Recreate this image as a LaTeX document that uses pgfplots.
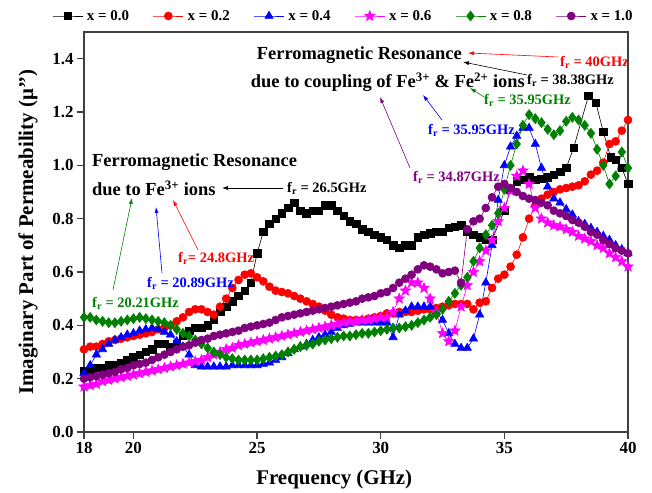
\documentclass[border=0pt]{standalone}
\usepackage{fontspec}
\setmainfont{Liberation Serif}
\usepackage{pgfplots}
\pgfplotsset{compat=1.18}
\usepackage{pgfplotstable}
\usetikzlibrary{arrows.meta}
\definecolor{cRed}{RGB}{255,0,0}
\definecolor{cBlue}{RGB}{0,0,255}
\definecolor{cMag}{RGB}{255,0,255}
\definecolor{cGreen}{RGB}{0,128,0}
\definecolor{cPurple}{RGB}{128,0,128}
\pgfdeclareplotmark{fstar}{%
\pgfpathmoveto{\pgfpointpolar{90}{\pgfplotmarksize}}%
\pgfpathlineto{\pgfpointpolar{126}{0.45\pgfplotmarksize}}%
\pgfpathlineto{\pgfpointpolar{162}{\pgfplotmarksize}}%
\pgfpathlineto{\pgfpointpolar{198}{0.45\pgfplotmarksize}}%
\pgfpathlineto{\pgfpointpolar{234}{\pgfplotmarksize}}%
\pgfpathlineto{\pgfpointpolar{270}{0.45\pgfplotmarksize}}%
\pgfpathlineto{\pgfpointpolar{306}{\pgfplotmarksize}}%
\pgfpathlineto{\pgfpointpolar{342}{0.45\pgfplotmarksize}}%
\pgfpathlineto{\pgfpointpolar{18}{\pgfplotmarksize}}%
\pgfpathlineto{\pgfpointpolar{54}{0.45\pgfplotmarksize}}%
\pgfpathclose\pgfusepathqfillstroke}

\pgfplotstableread[row sep=\\]{f v\\
18 .23\\ 18.25 .23\\ 18.5 .24\\ 18.75 .24\\ 19 .25\\ 19.25 .25\\ 19.5 .26\\ 19.75 .27\\ 20 .28\\ 20.25 .29\\ 20.5 .30\\ 20.75 .31\\ 21 .33\\ 21.25 .33\\ 21.5 .32\\ 21.75 .33\\ 22 .36\\ 22.25 .38\\ 22.5 .39\\ 22.75 .39\\ 23 .40\\ 23.25 .42\\ 23.5 .45\\ 23.75 .47\\ 24 .49\\ 24.25 .51\\ 24.5 .53\\ 24.75 .56\\ 25 .67\\ 25.25 .75\\ 25.5 .78\\ 25.75 .80\\ 26 .82\\ 26.25 .84\\ 26.5 .86\\ 26.75 .83\\ 27 .82\\ 27.25 .83\\ 27.5 .83\\ 27.75 .85\\ 28 .85\\ 28.25 .83\\ 28.5 .81\\ 28.75 .79\\ 29 .78\\ 29.25 .76\\ 29.5 .75\\ 29.75 .74\\ 30 .73\\ 30.25 .72\\ 30.5 .70\\ 30.75 .69\\ 31 .70\\ 31.25 .70\\ 31.5 .73\\ 31.75 .74\\ 32 .745\\ 32.25 .75\\ 32.5 .75\\ 32.75 .765\\ 33 .77\\ 33.25 .775\\ 33.5 .75\\ 33.75 .74\\ 34 .73\\ 34.25 .72\\ 34.5 .72\\ 35 .83\\ 35.25 .91\\ 35.5 .94\\ 35.75 .945\\ 36 .955\\ 36.25 .945\\ 36.5 .95\\ 36.75 .955\\ 37 .965\\ 37.25 .975\\ 37.5 .99\\ 37.8 1.065\\ 38.4 1.26\\ 38.7 1.235\\ 39 1.125\\ 39.3 1.03\\ 39.5 1.02\\ 39.75 .99\\ 40 .93\\
}\tblA

\pgfplotstableread[row sep=\\]{f v\\
18 .31\\ 18.25 .32\\ 18.5 .32\\ 18.75 .33\\ 19 .34\\ 19.25 .345\\ 19.5 .35\\ 19.75 .355\\ 20 .36\\ 20.25 .365\\ 20.5 .37\\ 20.75 .375\\ 21 .385\\ 21.25 .39\\ 21.5 .40\\ 21.75 .415\\ 22 .43\\ 22.25 .45\\ 22.5 .46\\ 22.75 .46\\ 23 .45\\ 23.25 .44\\ 23.5 .47\\ 23.75 .50\\ 24 .54\\ 24.25 .57\\ 24.5 .59\\ 24.75 .595\\ 25 .58\\ 25.25 .565\\ 25.5 .545\\ 25.75 .53\\ 26 .525\\ 26.25 .52\\ 26.5 .51\\ 26.75 .50\\ 27 .49\\ 27.25 .48\\ 27.5 .47\\ 27.75 .455\\ 28 .44\\ 28.25 .43\\ 28.5 .425\\ 28.75 .42\\ 29 .42\\ 29.25 .42\\ 29.5 .425\\ 29.75 .43\\ 30 .435\\ 30.25 .445\\ 30.5 .445\\ 30.75 .45\\ 31 .45\\ 31.25 .45\\ 31.5 .455\\ 31.75 .46\\ 32 .46\\ 32.25 .465\\ 32.5 .47\\ 32.75 .475\\ 33 .48\\ 33.25 .48\\ 33.5 .48\\ 33.75 .46\\ 34 .485\\ 34.25 .49\\ 34.5 .54\\ 34.75 .575\\ 35 .59\\ 35.25 .62\\ 35.5 .665\\ 35.75 .73\\ 36 .80\\ 36.25 .85\\ 36.5 .875\\ 36.75 .89\\ 37 .90\\ 37.25 .91\\ 37.5 .915\\ 37.75 .92\\ 38 .925\\ 38.25 .94\\ 38.5 .965\\ 38.75 .98\\ 39 1.01\\ 39.25 1.08\\ 39.5 1.09\\ 39.75 1.13\\ 40 1.17\\
}\tblB

\pgfplotstableread[row sep=\\]{f v\\
18 .22\\ 18.25 .25\\ 18.5 .29\\ 18.75 .31\\ 19 .33\\ 19.25 .345\\ 19.5 .355\\ 19.75 .365\\ 20 .37\\ 20.25 .38\\ 20.5 .385\\ 20.75 .39\\ 21 .385\\ 21.25 .375\\ 21.5 .365\\ 21.75 .34\\ 22 .32\\ 22.25 .29\\ 22.5 .25\\ 22.75 .245\\ 23 .245\\ 23.25 .245\\ 23.5 .245\\ 23.75 .245\\ 24 .25\\ 24.25 .25\\ 24.5 .25\\ 24.75 .25\\ 25 .25\\ 25.25 .255\\ 25.5 .26\\ 25.75 .27\\ 26 .28\\ 26.25 .295\\ 26.5 .31\\ 26.75 .32\\ 27 .33\\ 27.25 .345\\ 27.5 .355\\ 27.75 .365\\ 28 .375\\ 28.25 .39\\ 28.5 .40\\ 28.75 .405\\ 29 .41\\ 29.25 .41\\ 29.5 .41\\ 29.75 .41\\ 30 .41\\ 30.25 .41\\ 30.5 .355\\ 30.75 .44\\ 31 .455\\ 31.25 .47\\ 31.5 .47\\ 31.75 .47\\ 32 .47\\ 32.25 .45\\ 32.5 .42\\ 32.75 .37\\ 33 .33\\ 33.25 .315\\ 33.5 .315\\ 33.75 .35\\ 34 .44\\ 34.25 .56\\ 34.5 .70\\ 34.75 .87\\ 35 1.00\\ 35.25 1.07\\ 35.5 1.11\\ 35.75 1.14\\ 36 1.14\\ 36.25 1.08\\ 36.5 .99\\ 36.75 .92\\ 37 .875\\ 37.25 .86\\ 37.5 .835\\ 37.75 .815\\ 38 .79\\ 38.25 .78\\ 38.5 .765\\ 38.75 .75\\ 39 .735\\ 39.25 .72\\ 39.5 .70\\ 39.75 .685\\ 40 .67\\
}\tblC

\pgfplotstableread[row sep=\\]{f v\\
18 .17\\ 18.25 .175\\ 18.5 .18\\ 18.75 .19\\ 19 .195\\ 19.25 .20\\ 19.5 .205\\ 19.75 .21\\ 20 .215\\ 20.25 .22\\ 20.5 .225\\ 20.75 .23\\ 21 .235\\ 21.25 .24\\ 21.5 .245\\ 21.75 .25\\ 22 .255\\ 22.25 .26\\ 22.5 .265\\ 22.75 .27\\ 23 .28\\ 23.25 .29\\ 23.5 .30\\ 23.75 .31\\ 24 .315\\ 24.25 .325\\ 24.5 .33\\ 24.75 .335\\ 25 .34\\ 25.25 .345\\ 25.5 .35\\ 25.75 .355\\ 26 .36\\ 26.25 .365\\ 26.5 .37\\ 26.75 .375\\ 27 .38\\ 27.25 .385\\ 27.5 .39\\ 27.75 .395\\ 28 .40\\ 28.25 .405\\ 28.5 .41\\ 28.75 .415\\ 29 .415\\ 29.25 .42\\ 29.5 .42\\ 29.75 .425\\ 30 .43\\ 30.25 .43\\ 30.5 .45\\ 30.75 .50\\ 31 .53\\ 31.25 .56\\ 31.5 .56\\ 31.75 .54\\ 32 .50\\ 32.25 .45\\ 32.5 .37\\ 32.75 .34\\ 33 .38\\ 33.25 .47\\ 33.5 .55\\ 33.75 .60\\ 34 .64\\ 34.25 .68\\ 34.5 .72\\ 34.75 .79\\ 35 .84\\ 35.25 .905\\ 35.5 .96\\ 35.75 .98\\ 36 .93\\ 36.25 .84\\ 36.5 .80\\ 36.75 .785\\ 37 .775\\ 37.25 .77\\ 37.5 .76\\ 37.75 .75\\ 38 .735\\ 38.25 .725\\ 38.5 .715\\ 38.75 .70\\ 39 .69\\ 39.25 .67\\ 39.5 .655\\ 39.75 .64\\ 40 .62\\
}\tblD

\pgfplotstableread[row sep=\\]{f v\\
18 .43\\ 18.25 .43\\ 18.5 .42\\ 18.75 .415\\ 19 .41\\ 19.25 .41\\ 19.5 .415\\ 19.75 .42\\ 20 .425\\ 20.25 .43\\ 20.5 .425\\ 20.75 .42\\ 21 .415\\ 21.25 .41\\ 21.5 .40\\ 21.75 .385\\ 22 .37\\ 22.25 .36\\ 22.5 .345\\ 22.75 .33\\ 23 .315\\ 23.25 .30\\ 23.5 .29\\ 23.75 .28\\ 24 .275\\ 24.25 .27\\ 24.5 .27\\ 24.75 .27\\ 25 .27\\ 25.25 .275\\ 25.5 .28\\ 25.75 .285\\ 26 .29\\ 26.25 .30\\ 26.5 .31\\ 26.75 .32\\ 27 .325\\ 27.25 .33\\ 27.5 .34\\ 27.75 .345\\ 28 .35\\ 28.25 .355\\ 28.5 .36\\ 28.75 .36\\ 29 .365\\ 29.25 .37\\ 29.5 .37\\ 29.75 .375\\ 30 .38\\ 30.25 .385\\ 30.5 .39\\ 30.75 .39\\ 31 .395\\ 31.25 .40\\ 31.5 .41\\ 31.75 .42\\ 32 .43\\ 32.25 .44\\ 32.5 .46\\ 32.75 .49\\ 33 .52\\ 33.25 .55\\ 33.5 .58\\ 33.75 .64\\ 34 .69\\ 34.25 .74\\ 34.5 .775\\ 34.75 .82\\ 35 .91\\ 35.25 1.00\\ 35.5 1.08\\ 35.75 1.15\\ 36 1.19\\ 36.25 1.175\\ 36.5 1.16\\ 36.75 1.135\\ 37 1.115\\ 37.25 1.13\\ 37.5 1.165\\ 37.75 1.18\\ 38 1.17\\ 38.25 1.15\\ 38.5 1.12\\ 38.75 1.06\\ 39 1.00\\ 39.25 .93\\ 39.5 .96\\ 39.75 1.05\\ 40 .99\\
}\tblE

\pgfplotstableread[row sep=\\]{f v\\
18 .20\\ 18.25 .205\\ 18.5 .21\\ 18.75 .215\\ 19 .22\\ 19.25 .225\\ 19.5 .235\\ 19.75 .24\\ 20 .25\\ 20.25 .255\\ 20.5 .26\\ 20.75 .27\\ 21 .28\\ 21.25 .29\\ 21.5 .30\\ 21.75 .31\\ 22 .32\\ 22.25 .325\\ 22.5 .335\\ 22.75 .345\\ 23 .35\\ 23.25 .36\\ 23.5 .365\\ 23.75 .37\\ 24 .375\\ 24.25 .38\\ 24.5 .39\\ 24.75 .395\\ 25 .40\\ 25.25 .405\\ 25.5 .41\\ 25.75 .42\\ 26 .43\\ 26.25 .435\\ 26.5 .44\\ 26.75 .445\\ 27 .45\\ 27.25 .455\\ 27.5 .46\\ 27.75 .465\\ 28 .47\\ 28.25 .475\\ 28.5 .48\\ 28.75 .485\\ 29 .49\\ 29.25 .50\\ 29.5 .505\\ 29.75 .51\\ 30 .52\\ 30.25 .525\\ 30.5 .54\\ 30.75 .56\\ 31 .575\\ 31.25 .59\\ 31.5 .61\\ 31.75 .625\\ 32 .62\\ 32.25 .61\\ 32.5 .595\\ 32.75 .60\\ 33 .605\\ 33.25 .56\\ 33.5 .76\\ 33.75 .79\\ 34 .80\\ 34.25 .84\\ 34.5 .88\\ 34.75 .92\\ 35 .93\\ 35.25 .915\\ 35.5 .90\\ 35.75 .885\\ 36 .875\\ 36.25 .87\\ 36.5 .86\\ 36.75 .85\\ 37 .83\\ 37.25 .82\\ 37.5 .81\\ 37.75 .795\\ 38 .785\\ 38.25 .77\\ 38.5 .75\\ 38.75 .74\\ 39 .72\\ 39.25 .705\\ 39.5 .69\\ 39.75 .68\\ 40 .67\\
}\tblF

\begin{document}
\begin{tikzpicture}
\path[use as bounding box] (0,0) rectangle (652bp,493bp);
\begin{axis}[
  at={(84bp,61bp)}, anchor=south west,
  scale only axis, width=544bp, height=400bp,
  xmin=18, xmax=40, ymin=0, ymax=1.5,
  xtick={18,20,25,30,35,40},
  ytick={0,0.2,0.4,0.6,0.8,1.0,1.2,1.4},
  tick align=outside, major tick length=7bp,
  xtick pos=lower, ytick pos=left,
  axis line style={line width=1.2bp, black!75},
  every tick/.style={line width=1.2bp, black!75},
  tick label style={font=\fontsize{17}{17}\selectfont\bfseries},
  /pgf/number format/assume math mode=true,
  yticklabel style={/pgf/number format/.cd, fixed, fixed zerofill, precision=1},
  xlabel={Frequency (GHz)},
  ylabel={Imaginary Part of Permeability (μ’’)},
  label style={font=\fontsize{21}{21}\selectfont\bfseries},
  xlabel style={at={(axis description cs:0.46,-0.12)}, anchor=center},
  ylabel style={at={(axis description cs:-0.103,0.5)}, anchor=center},
  legend columns=6,
  legend style={at={(axis description cs:0.477,1.04)}, anchor=center, draw=none, fill=none,
    font=\fontsize{15}{15}\selectfont\bfseries, column sep=2bp,
    /tikz/every even column/.append style={column sep=22bp}, inner sep=0pt},
  legend image code/.code={\draw[mark repeat=2,mark phase=2,#1] plot coordinates {(0bp,0bp)(15bp,0bp)(30bp,0bp)};},
  every axis plot/.append style={line width=0.6bp},
]
\addplot[black, mark=square*, mark size=3.8bp] table {\tblA};
\addlegendentry{x = 0.0}
\addplot[cRed, mark=*, mark size=4bp] table {\tblB};
\addlegendentry{x = 0.2}
\addplot[cBlue, mark=triangle*, mark size=4.8bp] table {\tblC};
\addlegendentry{x = 0.4}
\addplot[cMag, mark=fstar, mark size=5.4bp] table {\tblD};
\addlegendentry{x = 0.6}
\addplot[cGreen, mark=diamond*, mark size=5bp] table {\tblE};
\addlegendentry{x = 0.8}
\addplot[cPurple, mark=*, mark size=4bp] table {\tblF};
\addlegendentry{x = 1.0}
\end{axis}
\tikzset{big/.style={font=\fontsize{18.5}{18.5}\selectfont\bfseries, inner sep=0pt},
  sm/.style={font=\fontsize{14.5}{14.5}\selectfont\bfseries, inner sep=0pt},
  ar/.style={-{Latex[length=6bp,width=4bp]}, line width=0.6bp}}
% left block
\node[big, anchor=west] at (92bp,331bp) {Ferromagnetic Resonance};
\node[big, anchor=west] at (92bp,305bp) {due to Fe\textsuperscript{3+} ions};
\draw[ar, black] (283bp,305bp) -- (222bp,305bp);
\node[sm, anchor=west, black] at (287bp,305bp) {f\textsubscript{r} = 26.5GHz};
\node[sm, anchor=west, cRed] at (178bp,235bp) {f\textsubscript{r}= 24.8GHz};
\draw[ar, cRed] (198bp,243bp) -- (173bp,293bp);
\node[sm, anchor=west, cBlue] at (147bp,210bp) {f\textsubscript{r} = 20.89GHz};
\draw[ar, cBlue] (162bp,220bp) -- (156bp,286bp);
\node[sm, anchor=west, cGreen] at (92bp,190bp) {f\textsubscript{r} = 20.21GHz};
\draw[ar, cGreen] (113bp,203bp) -- (132bp,295bp);
% right block
\node[big, anchor=east] at (462bp,438bp) {Ferromagnetic Resonance};
\node[big, anchor=east] at (525bp,411bp) {due to coupling of Fe\textsuperscript{3+} \& Fe\textsuperscript{2+} ions};
\node[sm, anchor=west, cRed] at (560bp,431bp) {f\textsubscript{r} = 40GHz};
\draw[ar, cRed] (558bp,436bp) -- (468bp,440bp);
\node[sm, anchor=west, black] at (527bp,413bp) {f\textsubscript{r} = 38.38GHz};
\draw[ar, black] (527bp,418bp) -- (463bp,431bp);
\node[sm, anchor=west, cGreen] at (484bp,393bp) {f\textsubscript{r} = 35.95GHz};
\draw[ar, cGreen] (484bp,396bp) -- (470bp,405bp);
\node[sm, anchor=west, cBlue] at (428bp,363bp) {f\textsubscript{r} = 35.95GHz};
\draw[ar, cBlue] (442bp,373bp) -- (423bp,398bp);
\node[sm, anchor=west, cPurple] at (413bp,316bp) {f\textsubscript{r} = 34.87GHz};
\draw[ar, cPurple] (410bp,325bp) -- (380bp,396bp);
\end{tikzpicture}
\end{document}
